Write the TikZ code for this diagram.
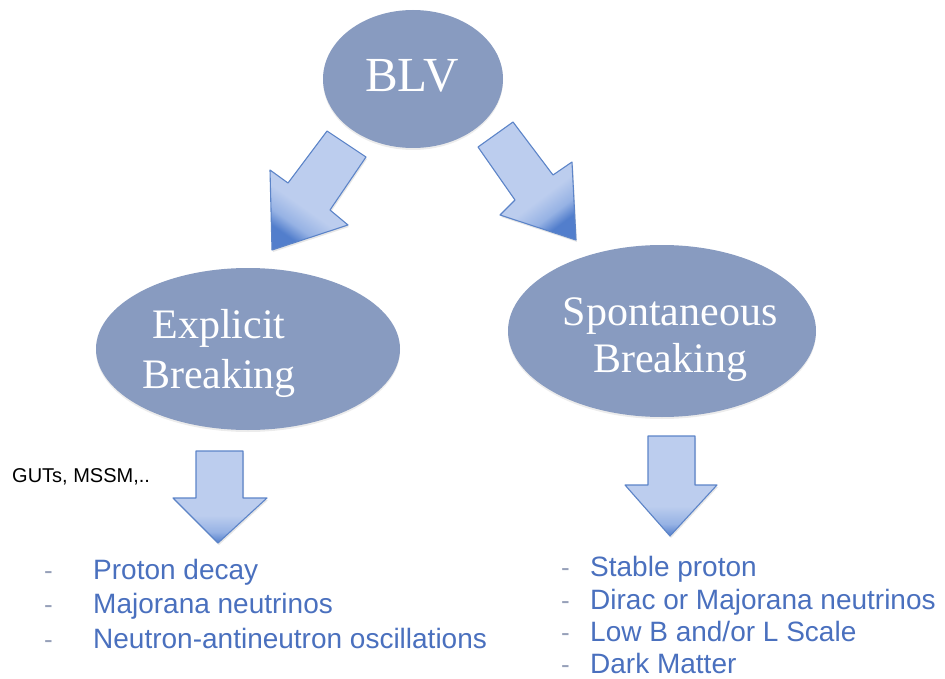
\documentclass[tikz,border=0pt]{standalone}
\usepackage{fontspec}
\setmainfont{Liberation Serif}
\newfontfamily\helv{Liberation Sans}
\usetikzlibrary{shadows,shapes.geometric}
\definecolor{ellfill}{RGB}{136,155,192}
\definecolor{alight}{RGB}{188,205,238}
\definecolor{amid}{RGB}{150,178,228}
\definecolor{adark}{RGB}{82,126,204}
\definecolor{aborder}{RGB}{92,132,200}
\definecolor{listblue}{RGB}{74,112,190}
\definecolor{dashgrey}{RGB}{150,160,185}
\pgfdeclareverticalshading{arrowshade}{100bp}{color(0bp)=(adark); color(25bp)=(adark); color(31bp)=(amid); color(40bp)=(alight); color(100bp)=(alight)}
\tikzset{
  ell/.style={ellipse, fill=ellfill, inner sep=0pt, draw=none,
    drop shadow={opacity=0.15, shadow xshift=0pt, shadow yshift=-2pt}},
  elltext/.style={text=white, align=center, font=\fontsize{42}{48}\selectfont},
  blockarrow/.style={draw=aborder, line width=1.1pt, line join=round, shading=arrowshade,
    drop shadow={opacity=0.2, shadow xshift=1pt, shadow yshift=-2pt}},
  item/.style={anchor=base west, text=listblue, font=\helv\fontsize{28}{34}\selectfont, inner sep=0pt},
  bullet/.style={anchor=base west, text=dashgrey, font=\helv\fontsize{26}{34}\selectfont, inner sep=0pt},
}
\begin{document}
\begin{tikzpicture}[x=1pt,y=-1pt]
\useasboundingbox (0,0) rectangle (945,679);
% ellipses
\node[ell, minimum width=180pt, minimum height=138pt] (blv) at (413,79) {};
\node[text=white, font=\fontsize{49}{55}\selectfont, anchor=base] (blvt) at (412,92) {BLV};
\node[ell, minimum width=304pt, minimum height=162pt] (expl) at (248,349) {};
\node[elltext, anchor=base] (explt1) at (219,338) {Explicit};
\node[elltext, anchor=base] (explt2) at (219,388) {Breaking};
\node[ell, minimum width=308pt, minimum height=172pt] (spon) at (662,331) {};
\node[elltext, anchor=base] (spont1) at (670,325) {Spontaneous};
\node[elltext, anchor=base] (spont2) at (670,372) {Breaking};
% diagonal arrows
\path[blockarrow, shading angle=-35]
  (327,131) -- (366,157) -- (330,210) -- (348,225) -- (272,250) -- (270,170) -- (288,183) -- cycle;
\path[blockarrow, shading angle=37]
  (513,122) -- (553,175) -- (572,162) -- (576,240) -- (500,215) -- (515,200) -- (478,147) -- cycle;
% down arrows
\path[blockarrow]
  (196,451) -- (243,451) -- (243,498) -- (267,498) -- (218,543) -- (173,498) -- (196,498) -- cycle;
\path[blockarrow]
  (648,436) -- (695,436) -- (695,485) -- (717,485) -- (670,536) -- (625,485) -- (648,485) -- cycle;
% side label
\node[anchor=base west, inner sep=0pt, font=\helv\fontsize{20}{24}\selectfont] (guts) at (12,482) {GUTs, MSSM,..};
% left list
\node[bullet] (ld1) at (44,579) {-};
\node[bullet] (ld2) at (44,613) {-};
\node[bullet] (ld3) at (44,648) {-};
\node[item] (li1) at (93,579) {Proton decay};
\node[item] (li2) at (93,613) {Majorana neutrinos};
\node[item] (li3) at (93,648) {Neutron-antineutron oscillations};
% right list
\node[bullet] (rd1) at (561,576) {-};
\node[bullet] (rd2) at (561,609) {-};
\node[bullet] (rd3) at (561,641) {-};
\node[bullet] (rd4) at (561,673) {-};
\node[item] (ri1) at (590,576) {Stable proton};
\node[item] (ri2) at (590,609) {Dirac or Majorana neutrinos};
\node[item] (ri3) at (590,641) {Low B and/or L Scale};
\node[item] (ri4) at (590,673) {Dark Matter};
\end{tikzpicture}
\end{document}
